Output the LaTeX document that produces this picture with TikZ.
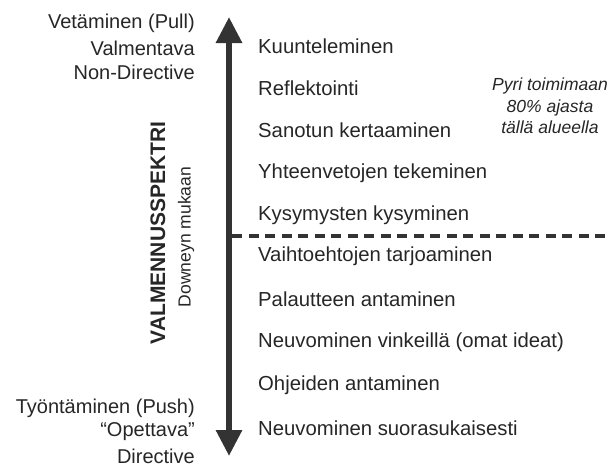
\documentclass[tikz,border=0pt]{standalone}
\usepackage{fontspec}
\setmainfont{Liberation Sans}
\usetikzlibrary{arrows.meta}
\definecolor{ink}{HTML}{262626}
\definecolor{arr}{HTML}{333333}
\begin{document}
\begin{tikzpicture}[x=1pt,y=-1pt,
  item/.style={anchor=west,font=\fontsize{20.3}{23}\selectfont,text=ink,inner sep=0pt},
  side/.style={anchor=east,font=\fontsize{20}{23}\selectfont,text=ink,inner sep=0pt},
  note/.style={align=center,font=\fontsize{17.5}{21.5}\selectfont\itshape,text=ink,inner sep=0pt}]
\useasboundingbox (0,0) rectangle (611,466);
\coordinate (top) at (229,17);
\coordinate (bot) at (229,456);
\coordinate (dl) at (232,236);
\coordinate (dr) at (611,236);
\draw[arr,line width=6pt,{Triangle[length=26pt,width=25pt]}-{Triangle[length=26pt,width=25pt]}] (top) -- (bot);
\draw[arr,line width=3.5pt,dash pattern=on 10pt off 6.5pt] (dl) -- (dr);
% items
\node[item] (i1) at (258,46) {Kuunteleminen};
\node[item] (i2) at (258,88) {Reflektointi};
\node[item] (i3) at (258,130) {Sanotun kertaaminen};
\node[item] (i4) at (258,173) {Yhteenvetojen tekeminen};
\node[item] (i5) at (258,215) {Kysymysten kysyminen};
\node[item] (i6) at (258,256) {Vaihtoehtojen tarjoaminen};
\node[item] (i7) at (258,299) {Palautteen antaminen};
\node[item] (i8) at (258,342) {Neuvominen vinkeillä (omat ideat)};
\node[item] (i9) at (258,385) {Ohjeiden antaminen};
\node[item] (i10) at (258,428) {Neuvominen suorasukaisesti};
% side labels
\node[side] (t1) at (195,23) {Vetäminen (Pull)};
\node[side] (t2) at (195,48) {Valmentava};
\node[side] (t3) at (195,72) {Non-Directive};
\node[side] (b1) at (195,408) {Työntäminen (Push)};
\node[side] (b2) at (195,432) {“Opettava”};
\node[side] (b3) at (195,456) {Directive};
% vertical title
\node[rotate=90,font=\fontsize{21}{24}\selectfont\bfseries,text=ink,inner sep=0pt] (vt) at (158,233) {VALMENNUSSPEKTRI};
\node[rotate=90,font=\fontsize{17.5}{20}\selectfont,text=ink,inner sep=0pt] (vs) at (186,237) {Downeyn mukaan};
% note
\node[note] (nt) at (550,106) {Pyri toimimaan\\80\% ajasta\\tällä alueella};
\end{tikzpicture}
\end{document}
